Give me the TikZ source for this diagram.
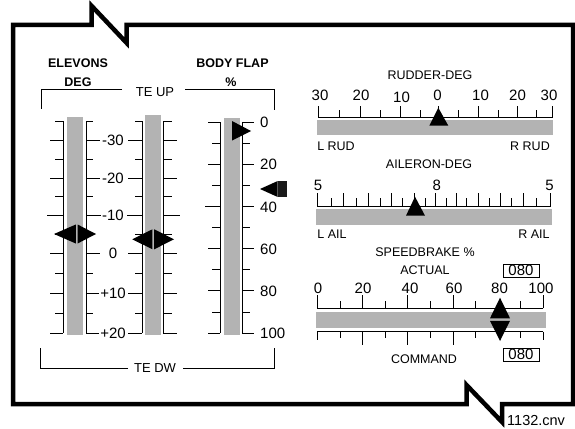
\documentclass[tikz,border=0pt]{standalone}
\usepackage{fontspec}
\setmainfont{Liberation Sans}
\definecolor{barGray}{HTML}{B3B3B3}
\definecolor{ptrDark}{HTML}{1A1A1A}
\begin{document}
\begin{tikzpicture}[x=1pt,y=-1pt,
  lbl/.style={font=\fontsize{12.5}{14}\selectfont, inner sep=0pt},
  num/.style={font=\fontsize{15}{17}\selectfont, inner sep=0pt},
  ttl/.style={font=\bfseries\fontsize{12.5}{14}\selectfont, inner sep=0pt},
  bar/.style={fill=barGray, draw=none},
  tk/.style={line width=0.8pt},
  ptr/.style={fill=black, draw=none},
  frame/.style={line width=4.5pt, line join=miter},
  valbox/.style={draw, line width=0.8pt, minimum width=36pt, minimum height=13pt, inner sep=0pt, font=\fontsize{15}{17}\selectfont}]
\useasboundingbox (0,0) rectangle (575,428);

% ---------- frame ----------
\draw[frame] (466.5,404) -- (13,404) -- (13,25) -- (91.7,25) -- (91.7,6) -- (126.7,43)
  -- (126.7,25) -- (573,25) -- (573,404) -- (502,404) -- (502,422) -- (466.5,385) -- cycle;
\node[anchor=west, font=\fontsize{14.5}{16}\selectfont, inner sep=0pt] (cnv) at (507,420.5) {1132.cnv};

% ---------- titles ----------
\node[ttl] (elev) at (78,63) {ELEVONS};
\node[ttl] (deg) at (78,82) {DEG};
\node[ttl] (bf) at (232.5,63) {BODY FLAP};
\node[ttl] (pct) at (231,82) {\%};

% ---------- brackets ----------
\node[font=\fontsize{13}{15}\selectfont, inner sep=0pt] (teup) at (155,92) {TE UP};
\draw[tk] (122,89) -- (41,89) -- (41,109);
\draw[tk] (185,89) -- (274,89) -- (274,110);
\node[font=\fontsize{13}{15}\selectfont, inner sep=0pt] (tedw) at (155,368) {TE DW};
\draw[tk] (128,368) -- (40,368) -- (40,348);
\draw[tk] (183,368) -- (274,368) -- (274,348);

% ---------- elevon scales ----------
\draw[tk] (63,121) -- (63,333);
\draw[tk] (86,121) -- (86,333);
\draw[tk] (142,121) -- (142,333);
\draw[tk] (163,121) -- (163,333);
\foreach \y in {121,159,196.5,234,273,313} {
  \draw[tk] (55,\y) -- (63,\y);
  \draw[tk] (86,\y) -- (93,\y);
  \draw[tk] (135,\y) -- (142,\y);
  \draw[tk] (163,\y) -- (172,\y);
}
\foreach \y in {140,178,253.5,293,333} {
  \draw[tk] (50,\y) -- (63,\y);
  \draw[tk] (86,\y) -- (100,\y);
  \draw[tk] (128,\y) -- (142,\y);
  \draw[tk] (163,\y) -- (177,\y);
}
\draw[tk] (47,215) -- (63,215);
\draw[tk] (86,215) -- (101.5,215);
\draw[tk] (127,215) -- (142,215);
\draw[tk] (163,215) -- (180,215);
\fill[bar] (67,117) rectangle (83,335);
\fill[bar] (145,115) rectangle (161,335);
\foreach \y/\t/\n in {140/-30/em30, 178/-20/em20, 215/-10/em10, 253.5/0/e0, 293/+10/ep10, 333/+20/ep20} {
  \node[num, fill=white, inner xsep=1pt] (\n) at (113,\y) {\t};
}
% elevon pointers
\fill[ptr] (54,234) -- (75.8,224.5) -- (75.8,243.5) -- cycle;
\fill[ptr] (96,234) -- (77.6,224.5) -- (77.6,243.5) -- cycle;
\fill[ptr] (132.3,239.3) -- (152.4,229.3) -- (152.4,249.3) -- cycle;
\fill[ptr] (174,239.3) -- (154.2,229.3) -- (154.2,249.3) -- cycle;

% ---------- body flap ----------
\draw[tk] (220,122) -- (220,333);
\draw[tk] (242,122) -- (242,333);
\foreach \p in {0,20,60,80,100} {
  \draw[tk] (208,122+2.11*\p) -- (220,122+2.11*\p);
  \draw[tk] (242,122+2.11*\p) -- (254,122+2.11*\p);
}
\draw[tk] (205,206.4) -- (220,206.4);
\draw[tk] (242,206.4) -- (254,206.4);
\foreach \p in {10,30,50,70,90} {
  \draw[tk] (212,122+2.11*\p) -- (220,122+2.11*\p);
  \draw[tk] (242,122+2.11*\p) -- (250,122+2.11*\p);
}
\fill[bar] (224,118) rectangle (240,335);
\foreach \p/\n in {0/b0, 20/b20, 40/b40, 60/b60, 80/b80, 100/b100} {
  \node[num, anchor=west] (\n) at (260,122.5+2.11*\p) {\p};
}
\fill[ptr] (251,131) -- (232,121) -- (232,140.5) -- cycle;
\fill[ptr] (260,189) -- (277.7,181) -- (277.7,197) -- cycle;
\fill[ptrDark] (277.5,181) rectangle (287.3,197);

% ---------- rudder ----------
\node[lbl] (rud) at (430,75) {RUDDER-DEG};
\draw[tk] (318.3,117.3) -- (552.7,117.3);
\foreach \x [count=\i] in {318.3,339,360,380,400.7,420,438.3,458.3,478.3,498.3,517.3,536.7,552.7} {
  \pgfmathsetmacro{\ty}{isodd(\i) ? 105.7 : 110}
  \draw[tk] (\x,117.3) -- (\x,\ty);
}
\fill[bar] (317,120) rectangle (553,135);
\foreach \x/\t/\n in {320/30/r1, 361/20/r2, 437.5/0/r4, 480.5/10/r5, 517.5/20/r6, 549/30/r7} {
  \node[num] (\n) at (\x,95) {\t};
}
\node[num] (r3) at (401.5,97) {10};
\fill[ptr] (438.3,107.7) -- (448.3,125.7) -- (429.3,125.7) -- cycle;
\node[lbl] (lrud) at (336,146) {L RUD};
\node[lbl] (rrud) at (530,146) {R RUD};

% ---------- aileron ----------
\node[lbl] (ail) at (429,164.5) {AILERON-DEG};
\draw[tk] (317.3,206.7) -- (550,206.7);
\foreach \x [count=\i] in {317.3,331,343.3,356,368.3,380,391,402.7,414,425,435.7,446,456.7,466.7,478.3,489.3,500,511,523.3,536.7,550} {
  \pgfmathsetmacro{\ty}{isodd(\i) ? 193.3 : 198.3}
  \draw[tk] (\x,206.7) -- (\x,\ty);
}
\fill[bar] (316,208.5) rectangle (552,225);
\node[num] (a1) at (318,185.5) {5};
\node[num] (a2) at (436.7,185.5) {8};
\node[num] (a3) at (549.5,185.5) {5};
\fill[ptr] (415,196.7) -- (425,215.7) -- (406,215.7) -- cycle;
\node[lbl] (lail) at (332,234.5) {L AIL};
\node[lbl] (rail) at (534,234.5) {R AIL};

% ---------- speedbrake ----------
\node[lbl] (sb) at (425,252.5) {SPEEDBRAKE \%};
\node[lbl] (act) at (425,270) {ACTUAL};
\node[valbox] (actv) at (521,270.5) {080};
\foreach \x/\t/\n in {318/0/s0, 363/20/s20, 410/40/s40, 454/60/s60, 499.5/80/s80, 541/100/s100} {
  \node[num] (\n) at (\x,288) {\t};
}
\draw[tk] (317.3,308.3) -- (543.3,308.3);
\draw[tk] (317.3,331.7) -- (543.3,331.7);
\foreach \p in {0,20,40,60,100} {
  \draw[tk] (317.3+2.26*\p,308.3) -- (317.3+2.26*\p,295);
}
\foreach \p in {10,30,50,70,90} {
  \draw[tk] (317.3+2.26*\p,308.3) -- (317.3+2.26*\p,300.7);
  \draw[tk] (317.3+2.26*\p,331.7) -- (317.3+2.26*\p,337.5);
}
\foreach \p in {20,40,60} {
  \draw[tk] (317.3+2.26*\p,331.7) -- (317.3+2.26*\p,344.5);
}
\foreach \p in {0,100} {
  \draw[tk] (317.3+2.26*\p,331.7) -- (317.3+2.26*\p,340);
}
\fill[bar] (316,311.7) rectangle (546,327.7);
\fill[ptr] (500,297.7) -- (510,318.3) -- (490,318.3) -- cycle;
\fill[ptr] (500,341) -- (510,320.8) -- (490,320.8) -- cycle;
\node[lbl] (cmd) at (424,359) {COMMAND};
\node[valbox] (cmdv) at (521,354.5) {080};
\end{tikzpicture}
\end{document}
